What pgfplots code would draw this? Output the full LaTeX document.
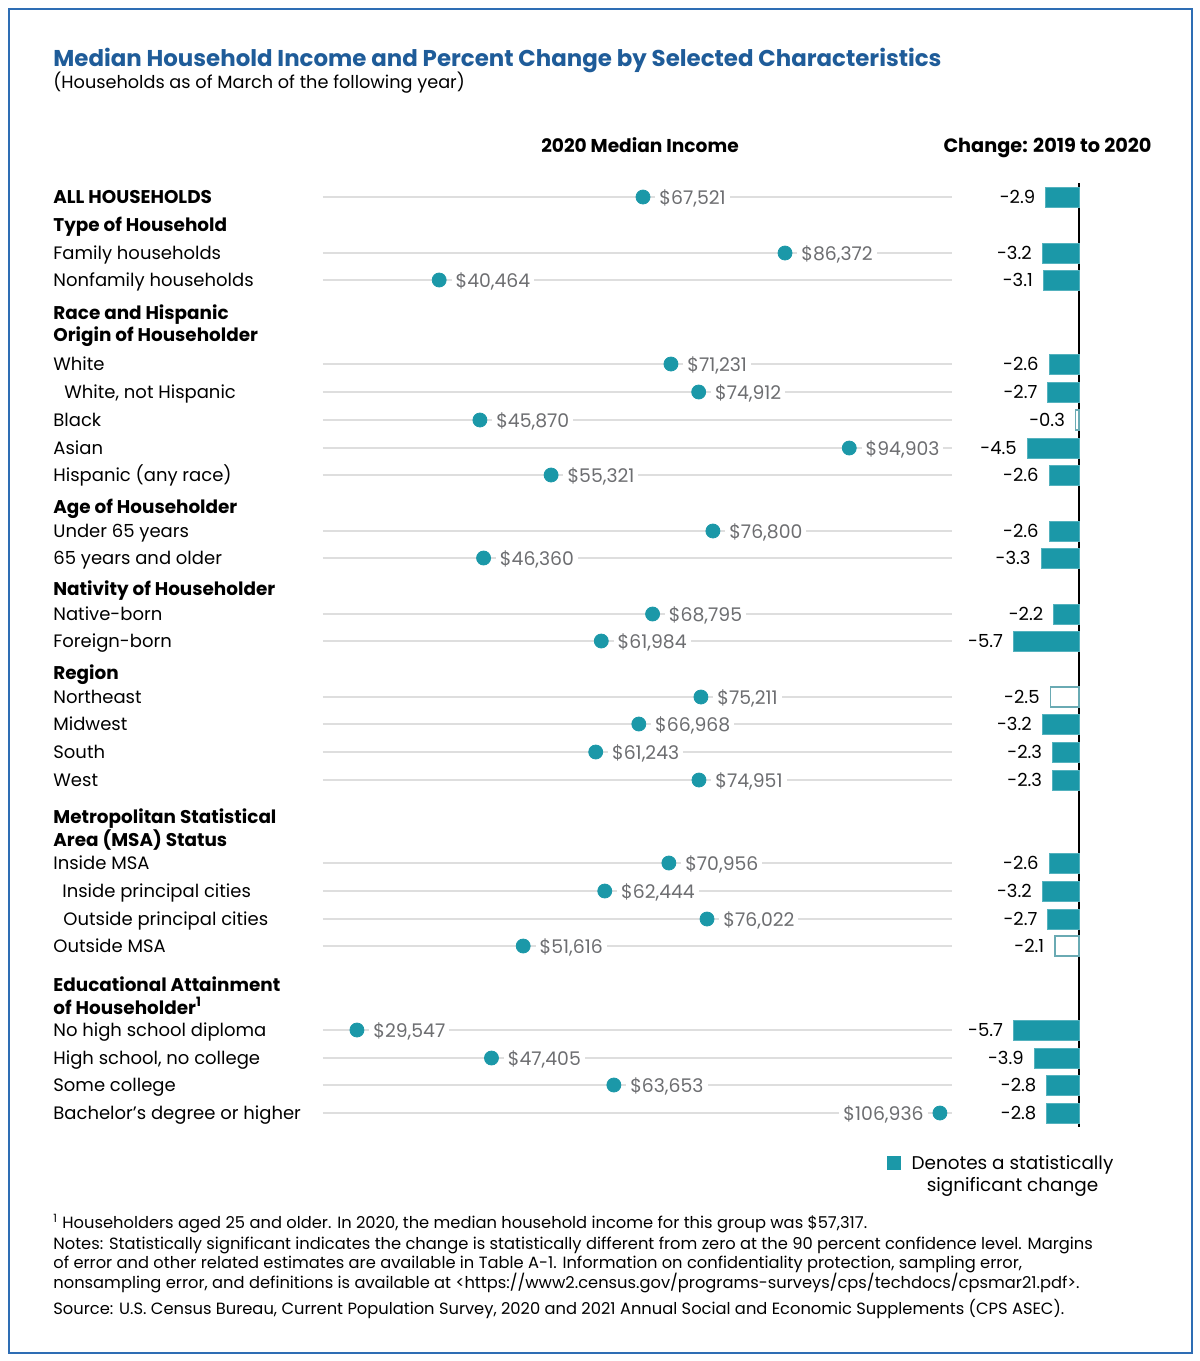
\documentclass[border=0pt]{standalone}
\usepackage{pgfplots}
\pgfplotsset{compat=1.18}
\usepackage{pgfplotstable}
\usepackage{fontspec}
\setmainfont{Poppins}
\definecolor{teal1}{RGB}{27,152,168}
\definecolor{titleblue}{RGB}{31,92,153}
\definecolor{frameblue}{RGB}{46,109,180}
\definecolor{gridgray}{RGB}{222,222,222}
\definecolor{labgray}{RGB}{109,110,113}
\definecolor{hollow}{RGB}{106,170,179}
\newcommand\rowfont{\fontsize{9}{10.5}\selectfont}
\newcommand\headfont{\fontsize{9.2}{10.5}\selectfont\bfseries}
\newcommand\lblfont{\fontsize{9.4}{10}\selectfont}
\newcommand\notefont{\fontsize{8.15}{9}\selectfont}

\pgfplotstableread{
y inc
197 67521
253 86372
280 40464
364 71231
392 74912
420 45870
448 94903
475 55321
531 76800
558 46360
614 68795
641 61984
697 75211
724 66968
752 61243
780 74951
863 70956
891 62444
919 76022
946 51616
1030 29547
1058 47405
1085 63653
}\dots
\pgfplotstableread{
y inc
1113 106936
}\dotsleft
\pgfplotstableread{
y chg
197 -2.9
253 -3.2
280 -3.1
364 -2.6
392 -2.7
448 -4.5
475 -2.6
531 -2.6
558 -3.3
614 -2.2
641 -5.7
724 -3.2
752 -2.3
780 -2.3
863 -2.6
891 -3.2
919 -2.7
1030 -5.7
1058 -3.9
1085 -2.8
1113 -2.8
}\sig
\pgfplotstableread{
y chg
420 -0.3
697 -2.5
946 -2.1
}\nsig

\begin{document}
\begin{tikzpicture}
\path[use as bounding box] (0pt,0pt) rectangle (600pt,-680.5pt);
\draw[frameblue, line width=1pt] (4.5pt,-4.5pt) rectangle (596pt,-676.5pt);

% titles
\node[anchor=base west, inner sep=0pt, text=titleblue, font=\fontsize{11.45}{13}\selectfont\bfseries] at (26.5pt,-33pt) {Median Household Income and Percent Change by Selected Characteristics};
\node[anchor=base west, inner sep=0pt, font=\fontsize{8.85}{10.5}\selectfont] at (26.5pt,-44pt) {(Households as of March of the following year)};
\node[anchor=base, inner sep=0pt, font=\fontsize{9.3}{10.5}\selectfont\bfseries] at (320pt,-76pt) {2020 Median Income};
\node[anchor=base, inner sep=0pt, font=\fontsize{9.65}{10.5}\selectfont\bfseries] at (523.75pt,-76pt) {Change: 2019 to 2020};

% group headings
\begin{scope}[every node/.style={anchor=base west, inner sep=0pt, font=\headfont}]
\node at (26.5pt,-115.5pt) {Type of Household};
\node at (26.5pt,-159.5pt) {Race and Hispanic};
\node at (26.5pt,-170.5pt) {Origin of Householder};
\node at (26.5pt,-256.5pt) {Age of Householder};
\node at (26.5pt,-297.5pt) {Nativity of Householder};
\node at (26.5pt,-339.5pt) {Region};
\node at (26.5pt,-411.5pt) {Metropolitan Statistical};
\node at (26.5pt,-423pt) {Area (MSA) Status};
\node at (26.5pt,-495.5pt) {Educational Attainment};
\node at (26.5pt,-507pt) {of Householder\textsuperscript{1}};
\end{scope}

% dot plot
\begin{axis}[
  at={(161.5pt,-91.5pt)}, anchor=north west,
  scale only axis, width=314.5pt, height=472pt,
  xmin=25041, xmax=108541, ymin=183, ymax=1127, y dir=reverse,
  clip=false,
  axis line style={draw=none},
  major tick length=0pt,
  xtick=\empty,
  ytick={197,253,280,364,392,420,448,475,531,558,614,641,697,724,752,780,863,891,919,946,1030,1058,1085,1113},
  yticklabels={{\headfont ALL HOUSEHOLDS},Family households,Nonfamily households,White,{\hspace{5.5pt}White, not Hispanic},Black,Asian,Hispanic (any race),Under 65 years,65 years and older,Native-born,Foreign-born,Northeast,Midwest,South,West,Inside MSA,\hspace{4.5pt}Inside principal cities,\hspace{5pt}Outside principal cities,Outside MSA,No high school diploma,{High school, no college},Some college,Bachelor’s degree or higher},
  yticklabel style={anchor=base west, inner sep=0pt, xshift=-135pt, yshift=-3pt, font=\rowfont},
  ymajorgrids, grid style={color=gridgray, line width=1pt},
  point meta=x,
]
\addplot[only marks, mark=*, mark size=3.5pt, mark options={fill=teal1, draw=teal1},
  nodes near coords={\$\pgfmathprintnumber[fixed,precision=0,1000 sep={,},assume math mode=true]{\pgfplotspointmeta}},
  every node near coord/.append style={anchor=west, xshift=6pt, yshift=-0.5pt, inner sep=2pt, fill=white, text=labgray, font=\lblfont}]
  table[x=inc,y=y]{\dots};
\addplot[only marks, mark=*, mark size=3.5pt, mark options={fill=teal1, draw=teal1},
  nodes near coords={\$\pgfmathprintnumber[fixed,precision=0,1000 sep={,},assume math mode=true]{\pgfplotspointmeta}},
  every node near coord/.append style={anchor=east, xshift=-6pt, yshift=-0.5pt, inner sep=2pt, fill=white, text=labgray, font=\lblfont}]
  table[x=inc,y=y]{\dotsleft};
\end{axis}

% change bars
\begin{axis}[
  at={(482pt,-91.5pt)}, anchor=north west,
  scale only axis, width=57.5pt, height=472pt,
  xmin=-10, xmax=0, ymin=183, ymax=1127, y dir=reverse,
  clip=false,
  axis line style={draw=none},
  major tick length=0pt,
  xtick={0}, xticklabels={}, ytick=\empty,
  xmajorgrids, grid style={black, line width=0.8pt},
  xbar, bar width=10pt, bar shift=0pt,
  point meta=x,
  nodes near coords={\pgfmathprintnumber[fixed,fixed zerofill,precision=1,assume math mode=true]{\pgfplotspointmeta}},
  every node near coord/.append style={anchor=east, inner sep=0pt, xshift=-5pt, font=\rowfont, text=black},
]
\addplot[fill=teal1, draw=teal1!75!white, line width=0.5pt] table[x=chg,y=y]{\sig};
\addplot[fill=white, draw=hollow, line width=0.7pt] table[x=chg,y=y]{\nsig};
\end{axis}

% legend
\fill[teal1] (443.5pt,-578pt) rectangle (450.5pt,-585pt);
\node[anchor=base, inner sep=0pt, align=center, font=\fontsize{9.2}{11}\selectfont] at (506.25pt,-595.5pt) {Denotes a statistically\\significant change};

% notes
\begin{scope}[every node/.style={anchor=base west, inner sep=0pt, font=\notefont}]
\node at (26.5pt,-614pt) {\textsuperscript{1} Householders aged 25 and older. In 2020, the median household income for this group was \$57,317.};
\node at (26.5pt,-624.5pt) {Notes: Statistically significant indicates the change is statistically different from zero at the 90 percent confidence level. Margins};
\node at (26.5pt,-634pt) {of error and other related estimates are available in Table A-1. Information on confidentiality protection, sampling error,};
\node at (26.5pt,-644pt) {nonsampling error, and definitions is available at <https://www2.census.gov/programs-surveys/cps/techdocs/cpsmar21.pdf>.};
\node at (26.5pt,-657pt) {Source: U.S. Census Bureau, Current Population Survey, 2020 and 2021 Annual Social and Economic Supplements (CPS ASEC).};
\end{scope}
\end{tikzpicture}
\end{document}
